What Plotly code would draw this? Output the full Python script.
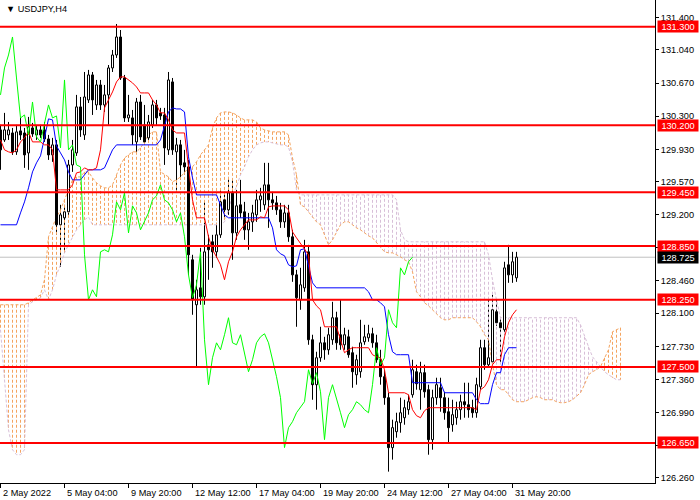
import plotly.graph_objects as go

# ---------------- data ----------------
x_tick_index = [0, 16, 32, 48, 64, 80, 96, 112, 128]
x_tick_labels = ["2 May 2022", "5 May 04:00", "9 May 20:00", "12 May 12:00", "17 May 04:00",
                 "19 May 20:00", "24 May 12:00", "27 May 04:00", "31 May 20:00"]
y_tick_values = [131.400, 131.040, 130.670, 130.300, 129.930, 129.570, 129.200, 128.830,
                 128.460, 128.100, 127.730, 127.360, 126.990, 126.620, 126.260]
y_tick_hidden = [128.830, 126.620]   # covered by the level labels in the reference
level_prices = [131.300, 130.200, 129.450, 128.850, 128.250, 127.500, 126.650]
last_price = 128.725
chart_title = "USDJPY,H4"

opens = [130.147, 130.035, 130.091, 130.113, 129.902, 130.136, 130.113, 129.890, 130.169, 130.091,
         130.147, 130.147, 130.046, 129.868, 129.980, 129.087, 129.165, 129.232, 129.756, 129.890,
         130.404, 130.091, 130.482, 130.761, 130.426, 130.649, 130.426, 130.538, 130.839, 130.984,
         131.185, 130.727, 130.281, 130.281, 130.013, 130.459, 130.203, 130.058, 130.203, 130.426,
         130.337, 130.314, 129.924, 130.683, 129.902, 129.980, 129.779, 129.734, 128.696, 128.194,
         128.383, 128.283, 128.863, 128.897, 128.785, 128.975, 129.366, 129.254, 129.444, 128.997,
         129.310, 129.232, 129.031, 129.120, 129.198, 129.366, 129.310, 129.533, 129.366, 129.332,
         129.254, 129.120, 129.220, 128.953, 128.528, 128.249, 128.383, 128.785, 127.803, 127.301,
         127.602, 127.769, 127.691, 127.803, 128.049, 127.859, 127.747, 127.836, 127.658, 127.412,
         127.446, 127.781, 127.825, 127.870, 127.769, 127.580, 127.390, 127.156, 126.598, 126.776,
         126.877, 126.932, 127.022, 127.189, 127.446, 127.245, 127.435, 127.245, 126.687, 127.156,
         127.267, 127.156, 126.999, 126.854, 126.932, 127.022, 127.111, 127.077, 127.044, 126.988,
         127.278, 127.714, 127.524, 127.557, 128.116, 127.993, 127.915, 128.640, 128.528, 128.495]
highs = [130.203, 130.337, 130.236, 130.169, 130.203, 130.281, 130.169, 130.292, 130.225, 130.192,
         130.203, 130.236, 130.091, 130.058, 130.035, 129.310, 129.310, 129.812, 130.035, 130.538,
         130.515, 130.794, 130.817, 130.794, 130.705, 130.705, 130.649, 130.872, 131.040, 131.330,
         131.263, 130.761, 130.538, 130.370, 130.504, 130.538, 130.426, 130.314, 130.482, 130.482,
         130.393, 130.393, 130.794, 130.727, 130.058, 130.035, 129.924, 129.812, 128.752, 128.473,
         128.830, 129.343, 128.975, 128.975, 129.109, 129.477, 129.455, 129.622, 129.589, 129.477,
         129.589, 129.343, 129.220, 129.310, 129.477, 129.500, 129.779, 129.779, 129.455, 129.410,
         129.332, 129.310, 129.310, 129.031, 128.584, 128.607, 128.919, 128.863, 127.859, 127.669,
         127.948, 127.836, 127.937, 128.227, 128.116, 128.249, 127.937, 127.915, 127.725, 127.636,
         128.026, 127.970, 127.970, 127.937, 127.859, 127.691, 127.468, 127.211, 126.910, 126.988,
         127.156, 127.133, 127.189, 127.580, 127.524, 127.557, 127.524, 127.301, 127.245, 127.379,
         127.379, 127.222, 127.156, 127.133, 127.111, 127.189, 127.323, 127.323, 127.133, 127.379,
         127.803, 127.803, 128.249, 128.305, 128.249, 128.049, 128.674, 128.863, 128.785, 128.785]
lows = [129.701, 130.013, 130.035, 129.868, 129.868, 130.035, 129.723, 129.701, 130.069, 130.035,
        130.058, 130.013, 129.812, 129.790, 128.975, 128.618, 128.774, 129.198, 129.678, 129.857,
        130.069, 130.035, 130.448, 130.314, 130.370, 130.370, 130.348, 130.203, 130.794, 130.951,
        130.705, 130.236, 130.236, 129.980, 129.902, 130.035, 129.980, 130.013, 130.169, 130.203,
        130.259, 129.756, 129.868, 129.868, 129.455, 129.589, 129.645, 128.528, 128.082, 127.490,
        128.194, 128.194, 128.473, 128.607, 128.718, 128.941, 129.165, 129.198, 128.696, 128.919,
        129.165, 128.919, 128.808, 129.008, 129.120, 129.232, 129.254, 129.053, 129.254, 129.198,
        129.053, 129.053, 128.897, 128.450, 127.948, 128.138, 128.339, 127.747, 127.133, 127.022,
        127.557, 127.580, 127.636, 127.747, 127.691, 127.691, 127.691, 127.602, 127.267, 127.301,
        127.379, 127.747, 127.781, 127.714, 127.546, 127.301, 127.077, 126.330, 126.464, 126.709,
        126.765, 126.854, 126.966, 127.156, 127.245, 127.022, 127.156, 126.519, 126.575, 127.077,
        126.999, 126.910, 126.653, 126.776, 126.854, 126.910, 126.932, 126.932, 126.932, 126.932,
        127.245, 127.468, 127.490, 127.524, 127.959, 127.546, 127.859, 128.439, 128.439, 128.450]
closes = [129.924, 130.147, 130.147, 129.902, 130.125, 130.091, 129.868, 130.181, 130.102, 130.147,
          130.091, 130.046, 129.868, 129.980, 129.087, 129.198, 129.232, 129.756, 129.924, 130.404,
          130.147, 130.515, 130.761, 130.482, 130.649, 130.426, 130.538, 130.839, 130.984, 131.185,
          130.727, 130.281, 130.314, 130.091, 130.459, 130.069, 130.013, 130.236, 130.426, 130.281,
          130.303, 129.946, 130.705, 129.924, 129.980, 129.756, 129.734, 128.752, 128.249, 128.361,
          128.283, 128.785, 128.808, 128.785, 128.975, 129.343, 129.254, 129.444, 128.997, 129.299,
          129.220, 129.031, 129.120, 129.220, 129.366, 129.410, 129.533, 129.366, 129.332, 129.254,
          129.120, 129.220, 128.953, 128.528, 128.272, 128.417, 128.785, 127.803, 127.301, 127.602,
          127.769, 127.691, 127.859, 128.049, 127.769, 127.747, 127.859, 127.636, 127.446, 127.580,
          127.769, 127.836, 127.870, 127.769, 127.580, 127.390, 127.156, 126.598, 126.821, 126.888,
          126.988, 127.044, 127.111, 127.468, 127.312, 127.435, 127.222, 126.687, 127.156, 127.301,
          127.156, 126.988, 126.821, 126.966, 127.022, 127.111, 127.077, 127.022, 126.988, 127.301,
          127.714, 127.524, 127.602, 128.138, 127.993, 127.937, 128.606, 128.528, 128.674, 128.725]

tenkan = [130.035, 129.924, 129.902, 129.890, 129.924, 130.013, 130.058, 130.125, 130.013, 130.013,
          130.013, 129.980, 129.980, 129.924, 129.477, 129.477, 129.477, 129.477, 129.533, 129.667,
          129.678, 129.723, 129.701, 129.701, 129.723, 129.924, 130.393, 130.482, 130.571, 130.683,
          130.739, 130.739, 130.705, 130.672, 130.627, 130.560, 130.560, 130.560, 130.482, 130.426,
          130.337, 130.337, 130.259, 130.147, 130.113, 130.113, 130.113, 129.734, 129.366, 129.165,
          129.165, 129.165, 128.953, 128.808, 128.729, 128.640, 128.473, 128.674, 128.785, 128.953,
          129.031, 129.087, 129.142, 129.142, 129.142, 129.176, 129.165, 129.287, 129.298, 129.298,
          129.298, 129.298, 129.254, 129.008, 128.941, 128.874, 128.819, 128.752, 128.249, 128.182,
          128.138, 127.948, 127.948, 127.948, 127.948, 127.803, 127.658, 127.691, 127.714, 127.714,
          127.714, 127.714, 127.714, 127.636, 127.613, 127.602, 127.468, 127.211, 127.211, 127.211,
          127.211, 127.211, 127.189, 127.022, 126.955, 126.932, 127.010, 127.044, 127.044, 127.044,
          127.044, 127.044, 127.044, 127.044, 127.044, 127.044, 127.044, 127.044, 127.044, 127.022,
          127.245, 127.278, 127.356, 127.524, 127.580, 127.580, 127.836, 127.993, 128.082, 128.138]
kijun = [129.087, 129.087, 129.087, 129.087, 129.087, 129.220, 129.343, 129.500, 129.678, 129.779,
         129.857, 130.058, 130.270, 130.259, 129.968, 129.890, 129.812, 129.678, 129.589, 129.589,
         129.589, 129.645, 129.701, 129.701, 129.701, 129.701, 129.723, 129.834, 129.924, 129.980,
         129.980, 129.980, 129.980, 129.980, 129.980, 129.980, 129.980, 129.980, 129.980, 129.980,
         130.035, 130.203, 130.348, 130.393, 130.381, 130.381, 130.348, 129.846, 129.611, 129.421,
         129.421, 129.421, 129.421, 129.421, 129.421, 129.310, 129.198, 129.165, 129.165, 129.165,
         129.165, 129.165, 129.165, 129.165, 129.165, 129.165, 129.165, 129.165, 129.053, 128.808,
         128.763, 128.741, 128.640, 128.618, 128.629, 128.808, 128.819, 128.640, 128.439, 128.383,
         128.383, 128.383, 128.383, 128.383, 128.383, 128.383, 128.383, 128.383, 128.383, 128.383,
         128.383, 128.383, 128.339, 128.249, 128.249, 128.216, 128.171, 127.859, 127.669, 127.636,
         127.636, 127.636, 127.636, 127.323, 127.323, 127.323, 127.323, 127.323, 127.323, 127.323,
         127.323, 127.211, 127.211, 127.211, 127.211, 127.211, 127.211, 127.211, 127.211, 127.133,
         127.089, 127.089, 127.089, 127.301, 127.435, 127.435, 127.636, 127.714, 127.714, 127.714]
senkou_a = [128.194, 128.194, 128.194, 128.194, 128.194, 128.194, 128.194, 128.216, 128.249, 128.272,
            128.305, 128.473, 128.953, 129.064, 129.176, 129.254, 129.366, 129.477, 129.589, 129.622,
            129.622, 129.678, 129.678, 129.611, 129.556, 129.522, 129.500, 129.500, 129.533, 129.645,
            129.756, 129.834, 129.868, 129.902, 129.902, 129.946, 130.013, 130.091, 130.125, 130.125,
            129.678, 129.645, 129.622, 129.567, 129.589, 129.622, 129.678, 129.723, 129.734, 129.790,
            129.868, 129.924, 129.980, 130.169, 130.281, 130.337, 130.348, 130.348, 130.337, 130.314,
            130.281, 130.259, 130.259, 130.259, 130.236, 130.169, 130.147, 130.136, 130.125, 130.125,
            130.125, 130.125, 130.091, 129.834, 129.645, 129.310, 129.287, 129.232, 129.165, 129.120,
            129.087, 128.975, 128.863, 128.919, 129.008, 129.087, 129.120, 129.120, 129.087, 129.053,
            129.031, 128.997, 128.964, 128.941, 128.886, 128.830, 128.785, 128.774, 128.774, 128.752,
            128.729, 128.696, 128.674, 128.562, 128.339, 128.283, 128.216, 128.182, 128.138, 128.093,
            128.049, 128.026, 128.026, 128.049, 128.049, 128.049, 128.049, 128.049, 128.049, 128.004,
            127.948, 127.859, 127.803, 127.524, 127.301, 127.245, 127.245, 127.189, 127.133, 127.111,
            127.111, 127.111, 127.133, 127.156, 127.167, 127.156, 127.133, 127.133, 127.133, 127.111,
            127.100, 127.100, 127.111, 127.133, 127.167, 127.211, 127.301, 127.412, 127.446, 127.468,
            127.502, 127.602, 127.691, 127.892, 127.915, 127.937]
senkou_b = [127.915, 127.356, 126.798, 126.575, 126.519, 126.519, 126.575, 128.194, 128.227, 128.249,
            128.272, 128.361, 128.249, 128.361, 128.528, 128.640, 128.774, 128.863, 128.953, 129.031,
            129.087, 129.142, 129.176, 129.087, 129.087, 129.087, 129.087, 129.087, 129.087, 129.087,
            129.087, 129.087, 129.087, 129.087, 129.087, 129.087, 129.087, 129.087, 129.087, 129.087,
            129.087, 129.087, 129.087, 129.087, 129.087, 129.087, 129.087, 129.087, 129.087, 129.087,
            129.087, 129.087, 129.087, 129.087, 129.087, 129.087, 129.120, 129.254, 129.421, 129.511,
            129.645, 129.734, 129.846, 129.924, 129.980, 130.002, 130.013, 130.013, 130.002, 129.991,
            129.980, 129.980, 129.957, 129.790, 129.477, 129.421, 129.421, 129.421, 129.421, 129.421,
            129.421, 129.421, 129.421, 129.421, 129.421, 129.421, 129.421, 129.421, 129.421, 129.421,
            129.421, 129.421, 129.421, 129.421, 129.421, 129.421, 129.421, 129.421, 129.421, 129.366,
            129.031, 128.919, 128.897, 128.897, 128.897, 128.897, 128.897, 128.897, 128.897, 128.897,
            128.897, 128.897, 128.897, 128.897, 128.897, 128.897, 128.897, 128.897, 128.897, 128.897,
            128.897, 128.897, 128.752, 128.473, 128.249, 128.049, 128.049, 128.049, 128.049, 128.049,
            128.049, 128.049, 128.049, 128.049, 128.049, 128.049, 128.049, 128.049, 128.049, 128.049,
            128.049, 128.049, 128.049, 128.049, 128.049, 127.970, 127.836, 127.725, 127.613, 127.557,
            127.502, 127.446, 127.412, 127.379, 127.356, 127.356]
chikou_shift = 26

# ---------------- styles ----------------
FONT = "Liberation Sans, Arial, sans-serif"
FS = 9.2
SANDY = "#F4A460"
THISTLE = "#D8BFD8"
HALF = 0.25  # half body width in bar units

n = len(closes)
idx = list(range(n))

wx, wy = [], []
for i in idx:
    top = max(opens[i], closes[i])
    bot = min(opens[i], closes[i])
    wx += [i, i, None, i, i, None]
    wy += [highs[i], top, None, bot, lows[i], None]

ux, uy, dx, dy = [], [], [], []
for i in idx:
    top = max(opens[i], closes[i])
    bot = min(opens[i], closes[i])
    xs = [i - HALF, i + HALF, i + HALF, i - HALF, i - HALF, None]
    ys = [bot, bot, top, top, bot, None]
    if closes[i] >= opens[i]:
        ux += xs; uy += ys
    else:
        dx += xs; dy += ys

kidx = list(range(len(senkou_a)))
hx_up, hy_up, hx_dn, hy_dn = [], [], [], []
for i in kidx:
    a, b = senkou_a[i], senkou_b[i]
    if a >= b:
        hx_up += [i, i, None]; hy_up += [a, b, None]
    else:
        hx_dn += [i, i, None]; hy_dn += [a, b, None]

chikou_x = [i - chikou_shift for i in idx if i - chikou_shift >= 0]
chikou_y = [closes[i] for i in idx if i - chikou_shift >= 0]

fig = go.Figure()
fig.add_trace(go.Scatter(x=wx, y=wy, mode="lines", line=dict(color="black", width=1), hoverinfo="skip"))
fig.add_trace(go.Scatter(x=hx_up, y=hy_up, mode="lines", line=dict(color=SANDY, width=1, dash="3px,2px"), hoverinfo="skip"))
fig.add_trace(go.Scatter(x=hx_dn, y=hy_dn, mode="lines", line=dict(color=THISTLE, width=1, dash="3px,2px"), hoverinfo="skip"))
fig.add_trace(go.Scatter(x=kidx, y=senkou_a, mode="lines", line=dict(color=SANDY, width=1, dash="3px,2px"), hoverinfo="skip"))
fig.add_trace(go.Scatter(x=kidx, y=senkou_b, mode="lines", line=dict(color=THISTLE, width=1, dash="3px,2px"), hoverinfo="skip"))
fig.add_trace(go.Scatter(x=ux, y=uy, mode="lines", fill="toself", fillcolor="white", line=dict(color="black", width=1), hoverinfo="skip"))
fig.add_trace(go.Scatter(x=dx, y=dy, mode="lines", fill="toself", fillcolor="black", line=dict(color="black", width=1), hoverinfo="skip"))
fig.add_trace(go.Scatter(x=idx, y=kijun, mode="lines", line=dict(color="#0000FF", width=1), hoverinfo="skip"))
fig.add_trace(go.Scatter(x=idx, y=tenkan, mode="lines", line=dict(color="#FF0000", width=1), hoverinfo="skip"))
fig.add_trace(go.Scatter(x=chikou_x, y=chikou_y, mode="lines", line=dict(color="#00FF00", width=1), hoverinfo="skip"))

shapes = [dict(type="line", xref="paper", x0=0, x1=1, yref="y", y0=last_price, y1=last_price,
               line=dict(color="#C0C0C0", width=1), layer="below")]
for lv in level_prices:
    shapes.append(dict(type="line", xref="paper", x0=0, x1=1, yref="y", y0=lv, y1=lv,
                       line=dict(color="#FF0000", width=2), layer="above"))

annotations = []
for lv in level_prices:
    annotations.append(dict(xref="paper", x=1, xanchor="left", xshift=2, yref="y", y=lv,
                            text=f"{lv:.3f}", showarrow=False, bgcolor="#FF0000",
                            font=dict(family=FONT, size=FS, color="white"),
                            width=40, height=11, borderpad=0, align="center"))
annotations.append(dict(xref="paper", x=1, xanchor="left", xshift=2, yref="y", y=last_price,
                        text=f"{last_price:.3f}", showarrow=False, bgcolor="black",
                        font=dict(family=FONT, size=FS, color="white"),
                        width=40, height=11, borderpad=0, align="center"))
for k, lab in zip(x_tick_index, x_tick_labels):
    annotations.append(dict(xref="x", x=k, xanchor="left", xshift=0, yref="paper", y=0,
                            yanchor="top", yshift=-3, text=lab, showarrow=False,
                            font=dict(family=FONT, size=FS, color="black")))
annotations.append(dict(xref="paper", x=0, xanchor="left", xshift=4, yref="paper", y=1,
                        yanchor="top", yshift=-2, text="\u25BC " + chart_title, showarrow=False,
                        font=dict(family=FONT, size=FS, color="black")))

fig.update_layout(
    width=700, height=500, margin=dict(l=0, r=45, t=0, b=17),
    paper_bgcolor="white", plot_bgcolor="white", showlegend=False,
    font=dict(family=FONT, size=FS, color="black"),
    shapes=shapes, annotations=annotations,
)
fig.update_xaxes(range=[-0.125, 163.625], tickvals=x_tick_index, showticklabels=False,
                 ticks="outside", ticklen=4, tickcolor="black", showline=True, linecolor="black",
                 linewidth=1, showgrid=False, zeroline=False, fixedrange=True)
fig.update_yaxes(side="right", range=[126.203, 131.598], tickvals=y_tick_values,
                 ticktext=["" if v in y_tick_hidden else f"{v:.3f}" for v in y_tick_values],
                 ticks="outside", ticklen=3,
                 tickcolor="black", showline=True, linecolor="black", linewidth=1,
                 showgrid=False, zeroline=False, fixedrange=True,
                 tickfont=dict(family=FONT, size=FS, color="black"))

fig.write_html("out.html", config={"displayModeBar": False},
               post_script="document.documentElement.style.margin='0';document.body.style.margin='0';document.body.style.padding='0';document.body.style.overflow='hidden';")
